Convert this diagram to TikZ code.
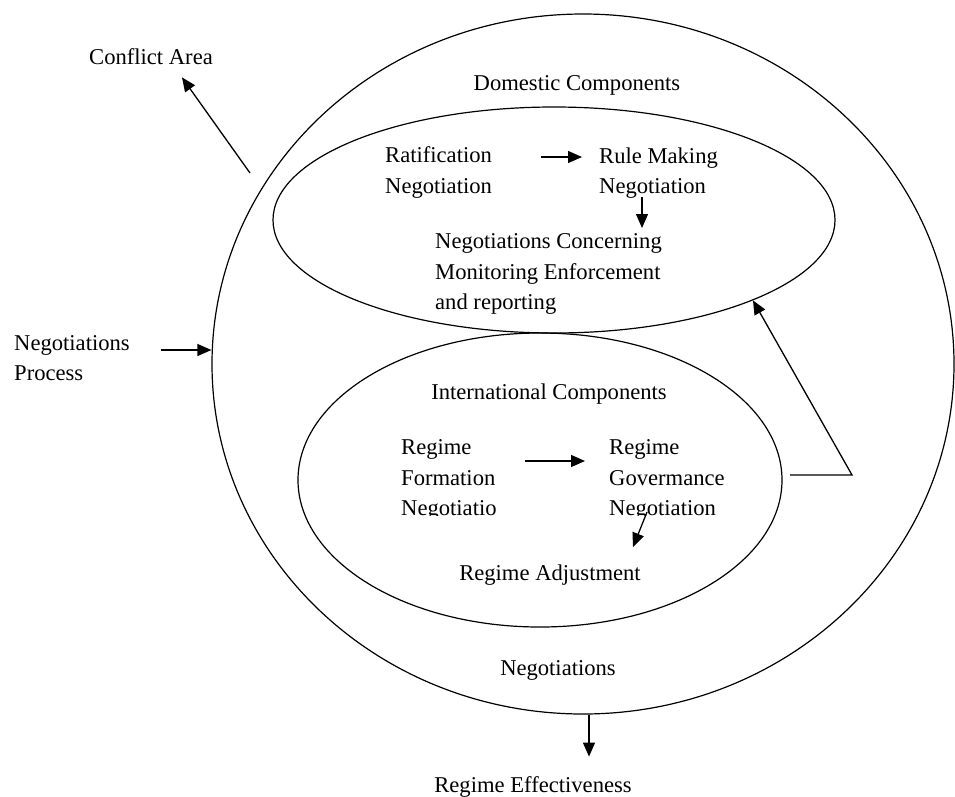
\documentclass[tikz,border=0pt]{standalone}
\usepackage{fontspec}
\setmainfont{Liberation Serif}
\usetikzlibrary{shapes.geometric,arrows.meta}

\tikzset{
    ring/.style={draw, ellipse, inner sep=0pt, line width=1.2pt},
    txt/.style={inner sep=0pt, align=left, font=\fontsize{22.6}{30.5}\selectfont},
    arr/.style={-{Triangle[length=14pt,width=12pt]}, line width=1.3pt}
}

\begin{document}
\begin{tikzpicture}[x=1pt, y=-1pt]
    \useasboundingbox (0,0) rectangle (955,796);

    % Rings
    \node[ring, minimum width=742pt, minimum height=700pt] (outer) at (583,364) {};
    \node[ring, minimum width=562pt, minimum height=226pt] (domring) at (554,220) {};
    \node[ring, minimum width=484pt, minimum height=294pt] (intring) at (540,480) {};

    % Outside labels
    \node[txt, anchor=base] (conflict) at (151,64) {Conflict Area};
    \node[txt, anchor=north west] (process) at (14,335) {Negotiations\\Process};
    \node[txt, anchor=base] (negot) at (558,675) {Negotiations};
    \node[txt, anchor=base] (effect) at (533,792) {Regime Effectiveness};

    % Domestic components
    \node[txt, anchor=base] (domestic) at (577,90) {Domestic Components};
    \node[txt, anchor=north west] (ratif) at (385,146.6) {Ratification\\Negotiation};
    \node[txt, anchor=north west] (rule) at (599,147.6) {Rule Making\\Negotiation};
    \node[txt, anchor=north west] (monitor) at (435,233.6) {Negotiations Concerning\\Monitoring Enforcement\\and reporting};

    % International components
    \node[txt, anchor=base] (intl) at (549,399) {International Components};
    \begin{scope}
        \clip (380,420) rectangle (760,515);
        \node[txt, anchor=north west] (formation) at (401,439.6) {Regime\\Formation\\Negotiatio};
        \node[txt, anchor=north west] (govern) at (609,439.6) {Regime\\Govermance\\Negotiation};
    \end{scope}
    \node[txt, anchor=base] (adjust) at (550,580) {Regime Adjustment};

    % Arrows
    \coordinate (caend) at (250,173);
    \draw[arr] (caend) -- ([shift={(31,13)}]conflict.south);
    \coordinate (npend) at (161,350);
    \draw[arr] (npend) -- (npend -| outer.west);
    \coordinate (raend) at (541,157);
    \draw[arr, shorten >=17pt] (raend) -- (raend -| rule.west);
    \coordinate (rmend) at (642,197);
    \draw[arr] (rmend) -- ++(0,31);
    \coordinate (rfend) at (525,461);
    \draw[arr, shorten >=24pt] (rfend) -- (rfend -| govern.west);
    \coordinate (gvend) at (647,512);
    \draw[arr] (gvend) -- ++(-14,35);
    \coordinate (irend) at (790,475);
    \coordinate (bend) at (852,475);
    \draw[arr] (irend) -- (bend) -- (domring.-22.5);
    \draw[arr] ([xshift=6pt]outer.south) -- ++(0,42);

\end{tikzpicture}
\end{document}
